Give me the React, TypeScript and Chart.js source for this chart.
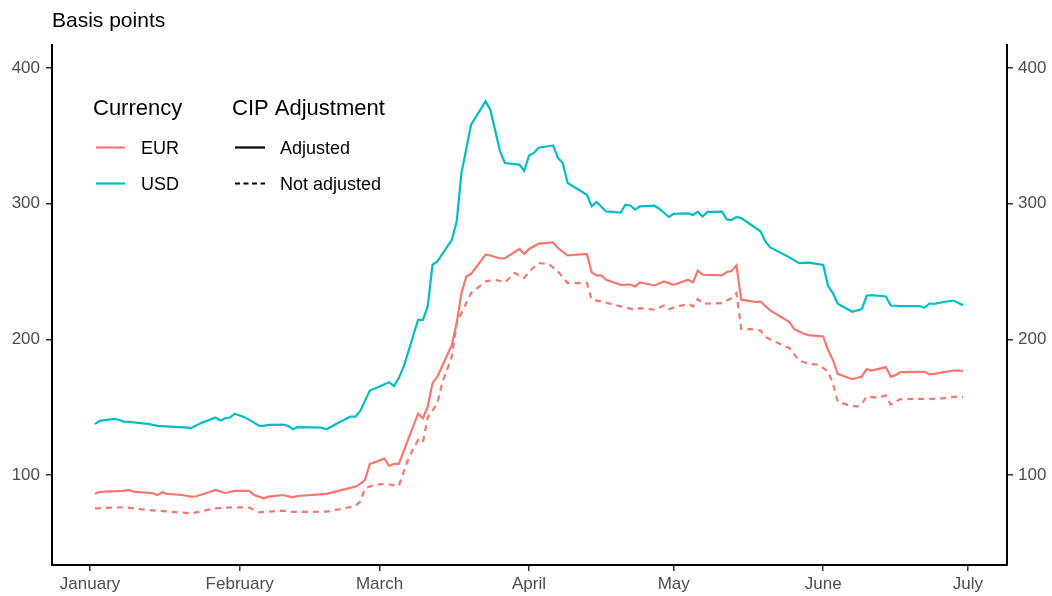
import React, { useEffect, useRef } from "react";
import { Chart, registerables } from "chart.js";

Chart.register(...registerables);

// ---- Axis ticks ----
const monthTickDays = [0, 31, 60, 91, 121, 152, 182];
const monthTickLabels = ["January", "February", "March", "April", "May", "June", "July"];
const yTickValues = [100, 200, 300, 400];

// ---- Series (x = days since 1 January, y = basis points) ----
const usdDays = [1, 2, 5, 6, 7, 8, 12, 14, 21, 23, 26, 27, 28, 29, 30, 32, 34, 35, 36, 37, 40, 41, 42, 43, 48, 49, 50, 51, 54, 55, 56, 58, 60, 62, 63, 64, 65, 66, 68, 69, 70, 71, 72, 75, 76, 77, 79, 82, 83, 85, 86, 89, 90, 91, 92, 93, 96, 97, 98, 99, 103, 104, 105, 107, 110, 111, 112, 113, 114, 117, 118, 120, 121, 124, 125, 126, 127, 128, 131, 132, 133, 134, 135, 139, 140, 141, 145, 147, 149, 152, 153, 154, 155, 158, 160, 161, 162, 165, 166, 168, 172, 173, 174, 175, 177, 179, 181];
const usdAdjusted = [137.4, 139.9, 141.3, 140.6, 139.3, 139.1, 137.6, 136.2, 134.7, 138.2, 142.3, 140.1, 141.8, 142.3, 145.2, 142.6, 138.6, 136.4, 136.2, 136.9, 137.1, 136.2, 133.7, 135.2, 134.9, 133.7, 135.6, 137.6, 143.0, 143.0, 147.2, 162.2, 165.2, 168.4, 165.5, 171.4, 179.7, 191.1, 214.4, 214.4, 224.2, 255.0, 257.4, 273.4, 286.9, 322.7, 358.3, 375.5, 368.9, 338.6, 330.0, 328.8, 324.1, 335.6, 337.4, 341.3, 343.0, 333.7, 330.0, 315.3, 306.6, 298.0, 301.3, 294.3, 293.4, 299.3, 298.7, 295.6, 298.0, 298.5, 296.3, 290.2, 292.6, 292.8, 291.7, 294.1, 290.6, 293.9, 294.1, 288.4, 288.0, 290.2, 289.4, 279.6, 272.2, 267.7, 260.4, 256.2, 256.5, 254.8, 239.5, 234.1, 226.2, 220.3, 222.3, 232.1, 232.6, 231.6, 224.9, 224.5, 224.5, 223.2, 226.4, 226.2, 227.5, 228.6, 225.2];

const eurDays = [1, 2, 7, 8, 9, 13, 14, 15, 16, 19, 21, 22, 24, 26, 28, 30, 33, 34, 36, 37, 40, 42, 43, 49, 55, 56, 57, 58, 61, 62, 63, 64, 68, 69, 70, 71, 72, 75, 76, 77, 78, 79, 82, 83, 85, 86, 89, 90, 91, 93, 96, 97, 99, 103, 104, 105, 106, 107, 110, 112, 113, 114, 117, 119, 121, 124, 125, 126, 127, 131, 132, 133, 134, 135, 138, 139, 141, 145, 146, 148, 149, 152, 153, 154, 155, 158, 160, 161, 162, 165, 166, 167, 168, 173, 174, 175, 177, 179, 181];
const eurAdjusted = [86.2, 87.5, 88.2, 88.9, 87.7, 86.5, 85.2, 87.2, 86.0, 85.2, 84.0, 84.3, 86.5, 88.9, 86.7, 88.2, 88.2, 85.2, 82.8, 84.0, 85.2, 83.5, 84.5, 86.0, 91.4, 93.4, 96.3, 108.1, 112.0, 106.6, 108.1, 108.1, 145.2, 141.8, 150.4, 167.7, 172.5, 195.9, 212.0, 234.1, 246.3, 248.3, 262.4, 261.8, 259.6, 259.9, 266.6, 262.9, 266.6, 270.5, 271.4, 267.3, 261.8, 262.9, 249.3, 247.1, 247.1, 243.9, 240.2, 240.4, 239.0, 241.9, 239.7, 242.7, 240.2, 243.9, 241.9, 250.6, 247.6, 247.1, 249.6, 250.3, 254.5, 229.2, 227.5, 227.7, 221.3, 212.7, 207.5, 204.1, 203.1, 202.1, 192.3, 184.9, 174.5, 170.6, 172.5, 178.0, 177.0, 179.5, 172.5, 173.6, 175.8, 176.0, 174.3, 174.5, 175.8, 177.0, 176.8];

const eurNotAdjDays = [1, 7, 12, 21, 26, 30, 33, 35, 40, 42, 49, 52, 55, 56, 57, 59, 61, 64, 66, 68, 69, 70, 72, 73, 75, 76, 78, 79, 82, 84, 86, 88, 90, 91, 93, 95, 97, 99, 103, 104, 106, 108, 111, 113, 114, 117, 119, 120, 124, 125, 126, 127, 131, 133, 134, 135, 137, 139, 140, 145, 147, 149, 151, 153, 154, 155, 157, 159, 160, 161, 163, 165, 166, 168, 172, 174, 177, 179, 181];
const eurNotAdjusted = [75.4, 76.2, 74.2, 71.7, 75.4, 76.2, 75.9, 72.5, 73.7, 72.7, 72.9, 74.9, 77.1, 80.3, 90.2, 92.6, 93.4, 91.9, 112.3, 125.8, 124.1, 142.4, 152.9, 167.7, 187.3, 212.0, 226.7, 234.1, 242.7, 243.9, 241.9, 248.9, 245.2, 250.0, 256.2, 255.7, 250.0, 241.5, 241.5, 229.2, 227.9, 226.0, 223.5, 221.8, 223.0, 221.8, 225.0, 222.3, 226.2, 224.2, 229.7, 226.2, 226.7, 230.4, 234.1, 207.7, 207.5, 206.5, 201.6, 193.5, 184.4, 181.9, 181.4, 176.2, 167.7, 154.1, 151.7, 150.4, 152.4, 157.8, 157.0, 158.5, 151.9, 155.9, 156.1, 155.9, 156.6, 157.6, 157.3];

const FONT = '"Liberation Sans", Arial, Helvetica, sans-serif';
const EUR_COLOR = "#F8766D";
const USD_COLOR = "#00BFC4";
const TICK_TEXT = "#4D4D4D";
const DASH = [6, 5];

const toPoints = (days: number[], vals: number[]) => days.map((d, i) => ({ x: d, y: vals[i] }));

const legendPlugin = {
  id: "ggLegend",
  afterDraw(chart: any) {
    const ctx = chart.ctx as CanvasRenderingContext2D;
    ctx.save();
    ctx.textAlign = "left";
    ctx.textBaseline = "alphabetic";
    ctx.fillStyle = "#000000";
    ctx.font = `21px ${FONT}`;
    ctx.fillText("Basis points", 52, 27);
    ctx.font = `22px ${FONT}`;
    ctx.fillText("Currency", 93, 115);
    ctx.fillText("CIP Adjustment", 232, 115);

    ctx.font = `18px ${FONT}`;
    ctx.fillText("EUR", 141, 154);
    ctx.fillText("USD", 141, 190);
    ctx.fillText("Adjusted", 280, 154);
    ctx.fillText("Not adjusted", 280, 190);

    ctx.lineWidth = 2.2;
    ctx.lineCap = "butt";
    const seg = (x1: number, x2: number, y: number, color: string, dash: number[]) => {
      ctx.beginPath();
      ctx.strokeStyle = color;
      ctx.setLineDash(dash);
      ctx.moveTo(x1, y);
      ctx.lineTo(x2, y);
      ctx.stroke();
    };
    seg(96, 125, 147.5, EUR_COLOR, []);
    seg(96, 125, 183.5, USD_COLOR, []);
    seg(235, 265, 147.5, "#000000", []);
    seg(235, 265, 183.5, "#000000", [5, 3.5]);
    ctx.restore();
  },
};

const yAxisCommon = (position: "left" | "right", width: number, padding: number) => ({
  type: "linear" as const,
  position,
  min: 33.6,
  max: 417,
  afterBuildTicks: (s: any) => {
    s.ticks = yTickValues.map((v) => ({ value: v }));
  },
  afterFit: (s: any) => {
    s.width = width;
  },
  ticks: {
    color: TICK_TEXT,
    font: { family: FONT, size: 17 },
    padding,
  },
  grid: { drawOnChartArea: false, drawTicks: true, tickLength: 6, color: "#333333", lineWidth: 1.5 },
  border: { display: true, color: "#000000", width: 2 },
});

export default function App() {
  const canvasRef = useRef<HTMLCanvasElement | null>(null);

  useEffect(() => {
    document.body.style.margin = "0";
    const canvas = canvasRef.current;
    if (!canvas) return;
    const chart = new Chart(canvas, {
      type: "line",
      data: {
        datasets: [
          {
            label: "EUR Not adjusted",
            data: toPoints(eurNotAdjDays, eurNotAdjusted),
            borderColor: EUR_COLOR,
            borderWidth: 2.2,
            borderDash: DASH,
            pointRadius: 0,
            tension: 0,
            fill: false,
          },
          {
            label: "EUR Adjusted",
            data: toPoints(eurDays, eurAdjusted),
            borderColor: EUR_COLOR,
            borderWidth: 2.2,
            pointRadius: 0,
            tension: 0,
            fill: false,
          },
          {
            label: "USD Adjusted",
            data: toPoints(usdDays, usdAdjusted),
            borderColor: USD_COLOR,
            borderWidth: 2.2,
            pointRadius: 0,
            tension: 0,
            fill: false,
          },
        ],
      },
      options: {
        animation: false,
        responsive: false,
        devicePixelRatio: 1,
        layout: { padding: { top: 45, left: 0, right: 0, bottom: 0 } },
        plugins: { legend: { display: false }, tooltip: { enabled: false } },
        scales: {
          x: {
            type: "linear",
            min: -7.9,
            max: 190.1,
            afterBuildTicks: (s: any) => {
              s.ticks = monthTickDays.map((v) => ({ value: v }));
            },
            afterFit: (s: any) => {
              s.height = 31;
            },
            ticks: {
              color: TICK_TEXT,
              font: { family: FONT, size: 17 },
              padding: 3,
              maxRotation: 0,
              autoSkip: false,
              callback: (v: any) => {
                const i = monthTickDays.indexOf(Number(v));
                return i >= 0 ? monthTickLabels[i] : "";
              },
            },
            grid: { drawOnChartArea: false, drawTicks: true, tickLength: 6, color: "#333333", lineWidth: 1.5 },
            border: { display: true, color: "#000000", width: 2 },
          },
          y: { ...yAxisCommon("left", 52, 6) },
          y2: { ...yAxisCommon("right", 45, 5) },
        },
      } as any,
      plugins: [legendPlugin],
    });
    return () => chart.destroy();
  }, []);

  return (
    <div style={{ position: "absolute", left: 0, top: 0, width: 1052, height: 596, background: "#ffffff" }}>
      <canvas ref={canvasRef} width={1052} height={596} />
    </div>
  );
}
